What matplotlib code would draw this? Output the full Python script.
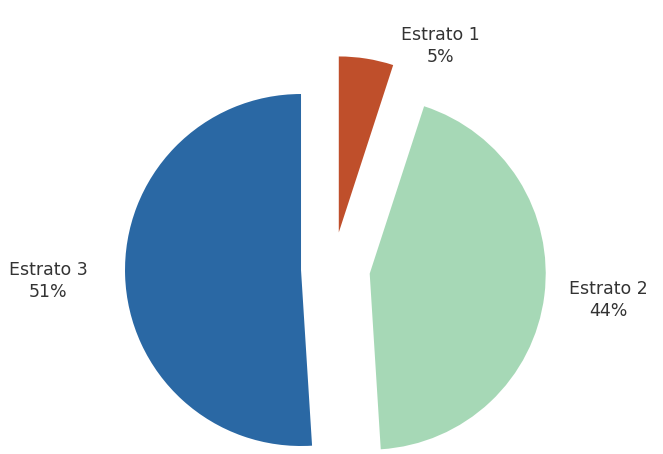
import matplotlib
matplotlib.use("Agg")
import matplotlib.pyplot as plt

# data
labels = ["Estrato 1", "Estrato 2", "Estrato 3"]
values = [5, 44, 51]
colors = ["#bf4f2b", "#a6d8b6", "#2a68a4"]
explode = [37, 37, 32]  # offsets in pixel units

# label positions in pixel coords (y measured from bottom)
label_xy = [(440, 408), (608, 154), (48, 173)]

fig = plt.figure(figsize=(6.63, 4.54), dpi=100)
ax = fig.add_axes([0, 0, 1, 1])

ax.pie(values, colors=colors, explode=explode, startangle=90,
       counterclock=False, center=(333, 185), radius=176,
       wedgeprops=dict(linewidth=0))

ax.set_xlim(0, 663)
ax.set_ylim(0, 454)
ax.set_aspect("equal")
ax.axis("off")

for lab, v, (x, y) in zip(labels, values, label_xy):
    ax.text(x, y, f"{lab}\n{v}%", ha="center", va="center",
            fontsize=12.5, color="#333333", linespacing=1.3)

fig.savefig("out.png", dpi=100)
